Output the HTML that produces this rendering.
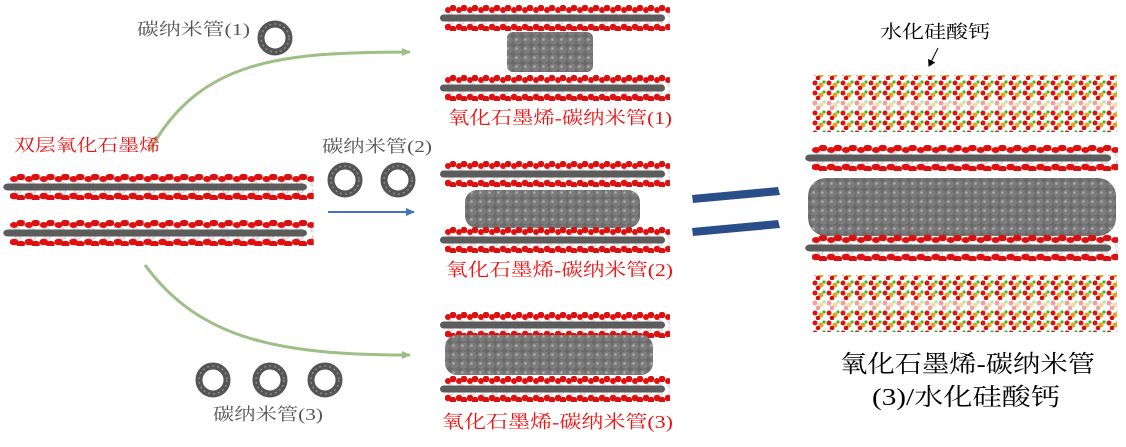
<!DOCTYPE html>
<html><head><meta charset="utf-8"><style>
body{margin:0;background:#fff;width:1126px;height:447px;overflow:hidden}
svg{display:block}
.t{font-family:"Liberation Serif","Noto Serif CJK SC",serif}
</style></head><body>
<svg width="1126" height="447" viewBox="0 0 1126 447">
<defs>
<pattern id="go" width="11" height="30" patternUnits="userSpaceOnUse">
<circle cx="3" cy="9" r="3.3" fill="#e01010"/><circle cx="8" cy="11" r="3.3" fill="#d81010"/>
<circle cx="6" cy="4" r="2.2" fill="#eee" stroke="#bbb" stroke-width=".5"/>
<circle cx="8" cy="20" r="3.3" fill="#d81010"/><circle cx="3" cy="22" r="3" fill="#e01010"/><circle cx="5" cy="27" r="2.2" fill="#eee" stroke="#bbb" stroke-width=".5"/>
</pattern>
<pattern id="cnt" width="9" height="9" patternUnits="userSpaceOnUse">
<rect width="9" height="9" fill="#6a6a6a"/><circle cx="4.5" cy="4.5" r="4.2" fill="#7c7c7c"/><circle cx="3.5" cy="3.5" r="1.3" fill="#aaa"/>
</pattern>
<pattern id="csh" width="14" height="10" patternUnits="userSpaceOnUse">
<circle cx="3" cy="3" r="2.5" fill="#e01010"/><circle cx="9" cy="5" r="2.5" fill="#e8a020"/>
<circle cx="12" cy="2" r="1.6" fill="#30c020"/><circle cx="6" cy="8" r="2.3" fill="#d01010"/>
</pattern>
<g id="sheet">
<rect x="0" y="-13" width="225" height="26" fill="url(#go)"/>
<rect x="-5" y="-3.5" width="225" height="7" rx="3.5" fill="#5c5c5c"/>
</g>
<marker id="ag" markerWidth="10" markerHeight="10" refX="8" refY="5" orient="auto" markerUnits="userSpaceOnUse"><path d="M0,1 L9,5 L0,9z" fill="#9cbf86"/></marker>
<marker id="ab" markerWidth="10" markerHeight="10" refX="8" refY="5" orient="auto" markerUnits="userSpaceOnUse"><path d="M0,1 L9,5 L0,9z" fill="#4472c4"/></marker>
<marker id="ak" markerWidth="8" markerHeight="8" refX="6" refY="4" orient="auto" markerUnits="userSpaceOnUse"><path d="M0,0 L7,4 L0,8z" fill="#000"/></marker>
</defs>

<path d="M150,150 C200,60 280,52 410,52" fill="none" stroke="#9cbf86" stroke-width="3" marker-end="url(#ag)"/>
<path d="M145,265 C200,340 280,355 410,355" fill="none" stroke="#9cbf86" stroke-width="3" marker-end="url(#ag)"/>
<line x1="328" y1="212" x2="414" y2="212" stroke="#4472c4" stroke-width="2" marker-end="url(#ab)"/>

<g transform="translate(10,187) scale(1.35,1)"><use href="#sheet"/></g>
<g transform="translate(10,233) scale(1.35,1)"><use href="#sheet"/></g>
<text class="t" x="14" y="151" font-size="17" fill="#f01010" textLength="146" lengthAdjust="spacingAndGlyphs">双层氧化石墨烯</text>

<g fill="none" stroke="#555" stroke-width="7">
<circle cx="275" cy="38" r="14"/>
<circle cx="345" cy="180" r="14"/><circle cx="398" cy="180" r="14"/>
<circle cx="213" cy="380" r="14"/><circle cx="270" cy="380" r="14"/><circle cx="325" cy="380" r="14"/>
</g>
<g fill="none" stroke="#8a8a8a" stroke-width="1.5" stroke-dasharray="2 3">
<circle cx="275" cy="38" r="14"/>
<circle cx="345" cy="180" r="14"/><circle cx="398" cy="180" r="14"/>
<circle cx="213" cy="380" r="14"/><circle cx="270" cy="380" r="14"/><circle cx="325" cy="380" r="14"/>
</g>
<text class="t" x="137" y="35" font-size="17" fill="#555" textLength="113" lengthAdjust="spacingAndGlyphs">碳纳米管(1)</text>
<text class="t" x="322" y="152" font-size="17" fill="#555" textLength="110" lengthAdjust="spacingAndGlyphs">碳纳米管(2)</text>
<text class="t" x="213" y="420" font-size="17" fill="#555" textLength="110" lengthAdjust="spacingAndGlyphs">碳纳米管(3)</text>

<use href="#sheet" x="445" y="18"/>
<rect x="507" y="32" width="86" height="40" rx="6" fill="url(#cnt)"/>
<use href="#sheet" x="445" y="88"/>
<text class="t" x="448" y="124" font-size="18" fill="#f01010" textLength="224" lengthAdjust="spacingAndGlyphs">氧化石墨烯-碳纳米管(1)</text>

<use href="#sheet" x="445" y="174"/>
<rect x="465" y="190" width="175" height="38" rx="12" fill="url(#cnt)"/>
<use href="#sheet" x="445" y="240"/>
<text class="t" x="446" y="276" font-size="18" fill="#f01010" textLength="227" lengthAdjust="spacingAndGlyphs">氧化石墨烯-碳纳米管(2)</text>

<use href="#sheet" x="445" y="325"/>
<rect x="445" y="335" width="208" height="40" rx="12" fill="url(#cnt)"/>
<use href="#sheet" x="445" y="389"/>
<text class="t" x="442" y="428" font-size="18" fill="#f01010" textLength="231" lengthAdjust="spacingAndGlyphs">氧化石墨烯-碳纳米管(3)</text>

<polygon points="692,195 778,187 780,195 693,203" fill="#2a4e8a"/>
<polygon points="692,228 778,220 780,228 693,236" fill="#2a4e8a"/>

<text class="t" x="880" y="38" font-size="18" fill="#000" textLength="110" lengthAdjust="spacingAndGlyphs">水化硅酸钙</text>
<line x1="938" y1="48" x2="929" y2="66" stroke="#000" stroke-width="1" marker-end="url(#ak)"/>
<rect x="812" y="75" width="305" height="57" fill="url(#csh)"/>
<rect x="812" y="100" width="305" height="10" fill="#fff" opacity=".6"/>
<rect x="812" y="275" width="305" height="57" fill="url(#csh)"/>
<rect x="812" y="300" width="305" height="10" fill="#fff" opacity=".6"/>
<g transform="translate(812,158) scale(1.36,1)"><use href="#sheet"/></g>
<rect x="808" y="178" width="308" height="58" rx="18" fill="url(#cnt)"/>
<g transform="translate(812,248) scale(1.36,1)"><use href="#sheet"/></g>
<text class="t" x="840" y="372" font-size="24" fill="#000" textLength="255" lengthAdjust="spacingAndGlyphs">氧化石墨烯-碳纳米管</text>
<text class="t" x="872" y="405" font-size="24" fill="#000" textLength="188" lengthAdjust="spacingAndGlyphs">(3)/水化硅酸钙</text>
</svg>
</body></html>
